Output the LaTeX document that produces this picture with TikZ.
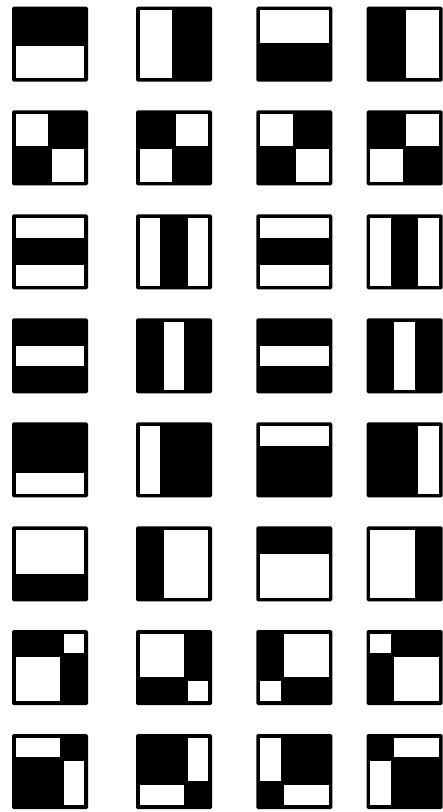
\documentclass[tikz,border=0pt]{standalone}
\tikzset{
  featbg/.style={fill=black, rounded corners=1.5pt},
  whitecell/.style={fill=white}
}
\newcommand\featbox[3]{%
  \fill[featbg] (#1,#2) rectangle ++(76,75);
  \foreach \a/\b/\c/\d in {#3}{%
    \fill[whitecell] ({#1+3.7+\a*68.6},{#2+3.7+\b*67.6}) rectangle ({#1+3.7+\c*68.6},{#2+3.7+\d*67.6});
  }%
}
\begin{document}
\begin{tikzpicture}[x=1pt,y=-1pt]
\useasboundingbox (0,0) rectangle (443,812);
% Row 1
\featbox{12}{6.7}{0/0.525/1/1}
\featbox{136}{6.7}{0/0/0.475/1}
\featbox{256.3}{6.7}{0/0/1/0.475}
\featbox{366.7}{6.7}{0.525/0/1/1}
% Row 2
\featbox{12}{110.3}{0/0/0.475/0.475, 0.525/0.525/1/1}
\featbox{136}{110.3}{0.525/0/1/0.475, 0/0.525/0.475/1}
\featbox{256.3}{110.3}{0/0/0.475/0.475, 0.525/0.525/1/1}
\featbox{366.7}{110.3}{0.525/0/1/0.475, 0/0.525/0.475/1}
% Row 3
\featbox{12}{214.3}{0/0/1/0.29, 0/0.70/1/1}
\featbox{136}{214.3}{0/0/0.30/1, 0.70/0/1/1}
\featbox{256.3}{214.3}{0/0/1/0.29, 0/0.70/1/1}
\featbox{366.7}{214.3}{0/0/0.30/1, 0.70/0/1/1}
% Row 4
\featbox{12}{318.3}{0/0.35/1/0.65}
\featbox{136}{318.3}{0.35/0/0.645/1}
\featbox{256.3}{318.3}{0/0.35/1/0.65}
\featbox{366.7}{318.3}{0.35/0/0.645/1}
% Row 5
\featbox{12}{422.3}{0/0.70/1/1}
\featbox{136}{422.3}{0/0/0.30/1}
\featbox{256.3}{422.3}{0/0/1/0.29}
\featbox{366.7}{422.3}{0.70/0/1/1}
% Row 6
\featbox{12}{526.3}{0/0/1/0.645}
\featbox{136}{526.3}{0.35/0/1/1}
\featbox{256.3}{526.3}{0/0.35/1/1}
\featbox{366.7}{526.3}{0/0/0.645/1}
% Row 7
\featbox{12}{630}{0.70/0/1/0.29, 0/0.35/0.645/1}
\featbox{136}{630}{0/0/0.645/0.645, 0.70/0.70/1/1}
\featbox{256.3}{630}{0.35/0/1/0.645, 0/0.70/0.30/1}
\featbox{366.7}{630}{0/0/0.30/0.29, 0.35/0.35/1/1}
% Row 8
\featbox{12}{734}{0/0/0.645/0.29, 0.70/0.35/1/1}
\featbox{136}{734}{0.70/0/1/0.645, 0/0.70/0.645/1}
\featbox{256.3}{734}{0/0/0.30/0.645, 0.35/0.70/1/1}
\featbox{366.7}{734}{0.35/0/1/0.29, 0/0.35/0.30/1}
\end{tikzpicture}
\end{document}
